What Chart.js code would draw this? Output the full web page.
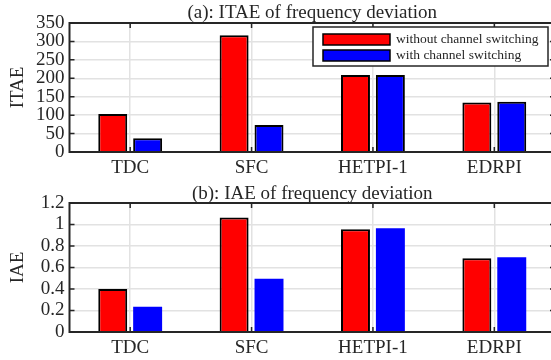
<!DOCTYPE html>
<html><head><meta charset="utf-8">
<script src="https://cdn.jsdelivr.net/npm/chart.js@4"></script>
<style>
html,body{margin:0;padding:0;background:#fff;overflow:hidden;width:551px;height:360px;}
.box{position:absolute;left:0;width:560px;height:180px;}
</style></head>
<body>
<div class="box" style="top:0"><canvas id="c1" width="560" height="180"></canvas></div>
<div class="box" style="top:180px"><canvas id="c2" width="560" height="180"></canvas></div>
<script>
const categories = ['TDC', 'SFC', 'HETPI-1', 'EDRPI'];
const seriesNames = ['without channel switching', 'with channel switching'];
const itaeWithout = [103, 317, 209, 134];
const itaeWith = [37, 73, 209, 136];
const iaeWithout = [0.40, 1.065, 0.955, 0.686];
const iaeWith = [0.235, 0.495, 0.965, 0.695];
const itaeTicks = [0, 50, 100, 150, 200, 250, 300, 350];
const iaeTicks = [0, 0.2, 0.4, 0.6, 0.8, 1, 1.2];
const itaeTickLabels = ['0', '50', '100', '150', '200', '250', '300', '350'];
const iaeTickLabels = ['0', '0.2', '0.4', '0.6', '0.8', '1', '1.2'];

const FONT = "'Liberation Serif', 'Times New Roman', serif";
const DARK = '#262626';
const FS = 19;

function decorPlugin(title, yTitle, titleY, withLegend) {
  return {
    id: 'decor',
    afterDraw(chart) {
      const ctx = chart.ctx;
      const a = chart.chartArea;
      const xs = chart.scales.x, ys = chart.scales.y;
      ctx.save();
      ctx.strokeStyle = DARK;
      ctx.lineWidth = 2;
      ctx.strokeRect(a.left, a.top, a.right - a.left, a.bottom - a.top);
      ctx.lineWidth = 1.5;
      ctx.beginPath();
      ys.ticks.forEach((t, i) => {
        const y = ys.getPixelForTick(i);
        ctx.moveTo(a.left, y); ctx.lineTo(a.left + 5, y);
        ctx.moveTo(a.right, y); ctx.lineTo(a.right - 5, y);
      });
      xs.ticks.forEach((t, i) => {
        const x = xs.getPixelForTick(i);
        ctx.moveTo(x, a.top); ctx.lineTo(x, a.top + 5);
        ctx.moveTo(x, a.bottom); ctx.lineTo(x, a.bottom - 5);
      });
      ctx.stroke();
      ctx.fillStyle = DARK;
      ctx.font = FS + 'px ' + FONT;
      ctx.textAlign = 'center';
      ctx.textBaseline = 'middle';
      ctx.fillText(title, (a.left + a.right) / 2, titleY);
      ctx.save();
      ctx.translate(18, (a.top + a.bottom) / 2);
      ctx.rotate(-Math.PI / 2);
      ctx.fillText(yTitle, 0, 0);
      ctx.restore();
      if (withLegend) {
        const lx = 313, ly = 27, lw = 235, lh = 39;
        ctx.fillStyle = '#fff';
        ctx.fillRect(lx, ly, lw, lh);
        ctx.strokeStyle = DARK;
        ctx.lineWidth = 1.5;
        ctx.strokeRect(lx, ly, lw, lh);
        ctx.font = '13.5px ' + FONT;
        ctx.textAlign = 'left';
        ctx.textBaseline = 'middle';
        chart.data.datasets.forEach((ds, i) => {
          const cy = ly + 12 + i * 16;
          ctx.fillStyle = ds.backgroundColor;
          ctx.fillRect(323, cy - 5, 67, 11);
          ctx.strokeStyle = '#000';
          ctx.lineWidth = 1.5;
          ctx.strokeRect(323, cy - 5, 67, 11);
          ctx.fillStyle = DARK;
          ctx.fillText(ds.label, 396, cy + 0.5);
        });
      }
      ctx.restore();
    }
  };
}

function makeChart(id, d1, d2, ticks, tickLabels, max, title, yTitle, titleY, legend, blueBorder) {
  return new Chart(document.getElementById(id), {
    type: 'bar',
    data: {
      labels: categories,
      datasets: [
        { label: seriesNames[0], data: d1, backgroundColor: '#ff0000', borderColor: '#000', borderWidth: 2,
          categoryPercentage: 0.575, barPercentage: 0.83 },
        { label: seriesNames[1], data: d2, backgroundColor: '#0000ff', borderColor: '#000', borderWidth: blueBorder ? 2 : 0,
          categoryPercentage: 0.575, barPercentage: 0.83 }
      ]
    },
    options: {
      responsive: false,
      devicePixelRatio: 1,
      animation: false,
      layout: { padding: { left: 0, right: 5, top: 23, bottom: 0 } },
      plugins: { legend: { display: false }, tooltip: { enabled: false }, title: { display: false } },
      scales: {
        x: {
          afterFit(s) { s.height = 28; },
          grid: { offset: false, color: '#e2e2e2', lineWidth: 1.5, drawTicks: false },
          border: { display: false },
          ticks: { font: { family: FONT, size: FS }, color: DARK, padding: 5, maxRotation: 0, autoSkip: false }
        },
        y: {
          min: 0, max: max,
          afterFit(s) { s.width = 69.5; },
          afterBuildTicks(s) { s.ticks = ticks.map(v => ({ value: v })); },
          grid: { color: '#e2e2e2', lineWidth: 1.5, drawTicks: false },
          border: { display: false },
          ticks: { font: { family: FONT, size: FS }, color: DARK, padding: 5, autoSkip: false,
            callback: (v, i) => tickLabels[i] }
        }
      }
    },
    plugins: [decorPlugin(title, yTitle, titleY, legend)]
  });
}

makeChart('c1', itaeWithout, itaeWith, itaeTicks, itaeTickLabels, 350, '(a): ITAE of frequency deviation', 'ITAE', 13, true, true);
makeChart('c2', iaeWithout, iaeWith, iaeTicks, iaeTickLabels, 1.2, '(b): IAE of frequency deviation', 'IAE', 14.5, false, false);
</script>
</body></html>
